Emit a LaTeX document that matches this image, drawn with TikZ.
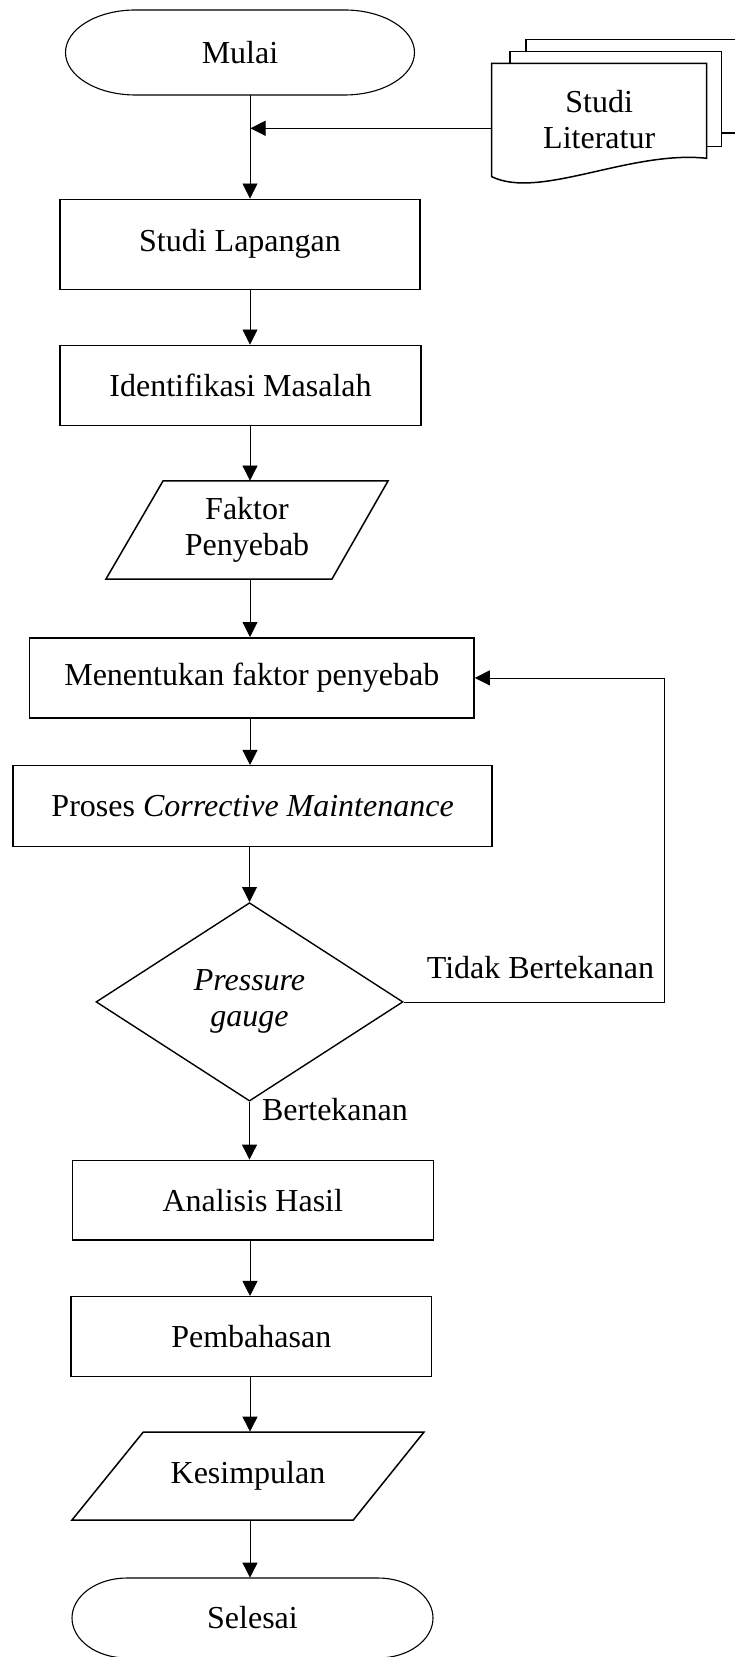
\documentclass[tikz,border=0pt]{standalone}
\usepackage{fontspec}
\setmainfont{Liberation Serif}
\usetikzlibrary{arrows.meta,shapes.geometric}
\tikzset{
  basefont/.style={font=\fontsize{16pt}{18pt}\selectfont},
  procbox/.style={draw, line width=0.75pt, inner sep=0pt},
  plain/.style={inner sep=0pt, align=center},
  outline/.style={line width=0.75pt, fill=white},
  termline/.style={line width=0.55pt},
  decbox/.style={draw, diamond, line width=0.7pt, inner sep=0pt, aspect=1.55, align=center},
  arr/.style={-{Triangle[length=7.5pt,width=7.5pt]}, line width=0.4pt},
  lbl/.style={inner sep=0pt, anchor=base}
}
\begin{document}
\begin{tikzpicture}[x=0.5pt,y=-0.5pt,basefont]
\useasboundingbox (0,0) rectangle (734,1657);
\coordinate (spine) at (250,0);

% Mulai terminal
\draw[termline] (135.5,10) -- (344.5,10) .. controls (383.16,10) and (414.5,29.03) .. (414.5,52.5)
  .. controls (414.5,75.97) and (383.16,95) .. (344.5,95) -- (135.5,95)
  .. controls (96.84,95) and (65.5,75.97) .. (65.5,52.5)
  .. controls (65.5,29.03) and (96.84,10) .. cycle;
\node[plain, minimum width=174.5pt, minimum height=42.5pt] (mulai) at (240,52.5) {Mulai};

% Studi Literatur multi-document
\draw[outline] (526,133) -- (526,39.3) -- (742,39.3) -- (742,133) -- cycle;
\draw[outline] (510,146.7) -- (510,51.7) -- (721.7,51.7) -- (721.7,146.7) -- cycle;
\draw[outline] (491.7,176.7) -- (491.7,63.3) -- (706.7,63.3) -- (706.7,158.3)
  .. controls (630,150) and (540,200) .. (491.7,176.7) -- cycle;
\node[plain, minimum width=107.5pt] (lit) at (599.2,120) {Studi\\Literatur};
\coordinate (join) at (250.5,128.3);

% Process boxes
\node[procbox, minimum width=180pt, minimum height=45pt] (slap) at (240,244.3) {Studi Lapangan};
\node[procbox, minimum width=180.5pt, minimum height=40.2pt] (ident) at (240.5,385.5) {Identifikasi Masalah};

% Faktor Penyebab (parallelogram)
\draw[outline] (163,481) -- (388,481) -- (332,579) -- (106,579) -- cycle;
\node[plain, minimum width=141pt, minimum height=49pt] (fak) at (247,530) {Faktor\\Penyebab};

\node[procbox, minimum width=222.25pt, minimum height=40.15pt] (ment) at (251.8,677.9) {Menentukan faktor penyebab};
\node[procbox, minimum width=239.5pt, minimum height=40.5pt] (pros) at (252.6,806.2) {Proses \textit{Corrective Maintenance}};

% Decision
\node[decbox, minimum width=153.5pt, minimum height=99.2pt, font=\fontsize{16pt}{18pt}\selectfont\itshape] (dec) at (249.5,1001.9) {Pressure\\gauge};

\node[procbox, minimum width=180.5pt, minimum height=39.85pt] (anal) at (252.8,1200.2) {Analisis Hasil};
\node[procbox, minimum width=180.35pt, minimum height=40pt] (bahas) at (251.3,1336.7) {Pembahasan};

% Kesimpulan (parallelogram)
\draw[outline] (143.3,1432) -- (424,1432) -- (353.3,1520) -- (72,1520) -- cycle;
\node[plain, minimum width=140pt, minimum height=44pt] (kes) at (248,1476) {Kesimpulan};

% Selesai terminal
\draw[termline] (127,1578) -- (378,1578) .. controls (408.38,1578) and (433,1595.91) .. (433,1618)
  .. controls (433,1640.09) and (408.38,1658) .. (378,1658) -- (127,1658)
  .. controls (96.62,1658) and (72,1640.09) .. (72,1618)
  .. controls (72,1595.91) and (96.62,1578) .. cycle;
\node[plain, minimum width=180.5pt, minimum height=40pt] (sel) at (252.5,1618) {Selesai};

% Connectors
\draw[arr] (mulai.south -| spine) -- (slap.north -| spine);
\draw[arr] (lit.west |- join) -- (join);
\draw[arr] (slap.south -| spine) -- (ident.north -| spine);
\draw[arr] (ident.south -| spine) -- (fak.north -| spine);
\draw[arr] (fak.south -| spine) -- (ment.north -| spine);
\draw[arr] (ment.south -| spine) -- (pros.north -| spine);
\draw[arr] (pros.south -| dec.north) -- (dec.north);
\draw[arr] (dec.south) -- (anal.north -| dec.south);
\draw[arr] (anal.south -| spine) -- (bahas.north -| spine);
\draw[arr] (bahas.south -| spine) -- (kes.north -| spine);
\draw[arr] (kes.south -| spine) -- (sel.north -| spine);
\draw[arr] (dec.east) -- ++(261,0) |- (ment.east);

% Labels
\node[lbl] (tidak) at (540.5,978) {Tidak Bertekanan};
\node[lbl] (ya) at (335,1120) {Bertekanan};
\end{tikzpicture}
\end{document}
